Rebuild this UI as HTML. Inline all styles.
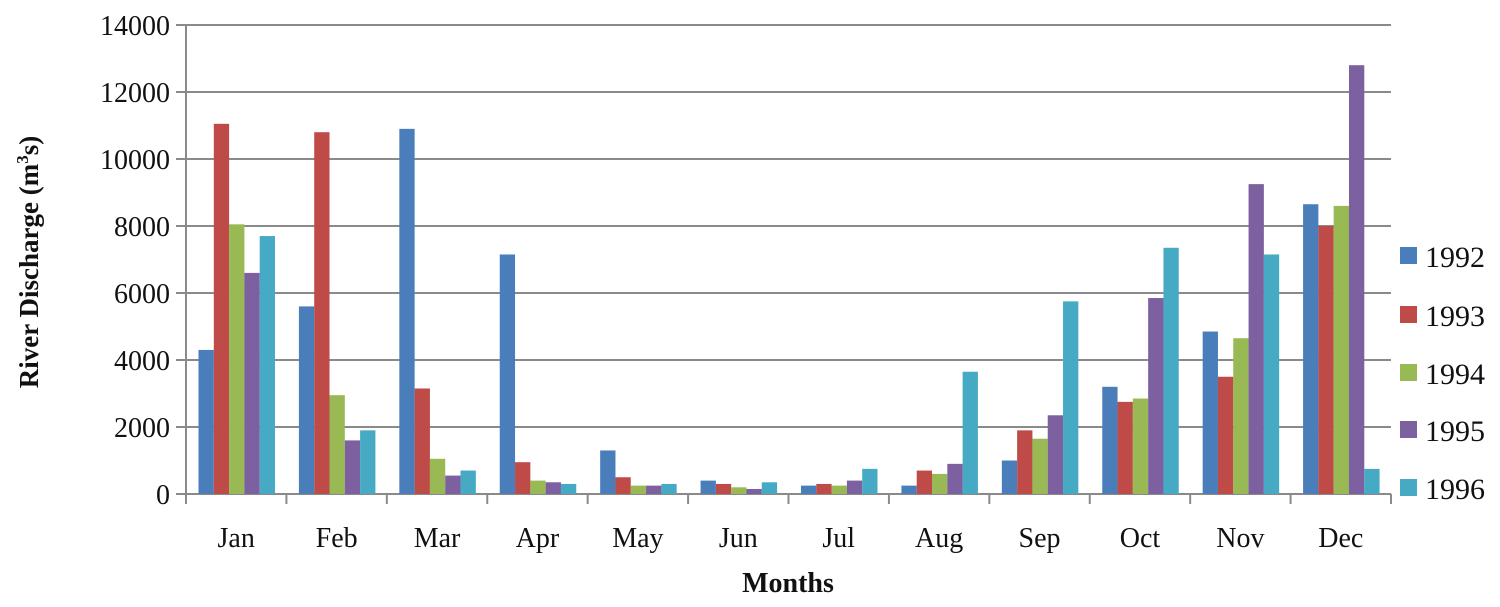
<!DOCTYPE html>
<html><head><meta charset="utf-8"><style>
body{margin:0;background:#fff}
svg{display:block;font-family:"Liberation Serif",serif}
</style></head><body>
<svg id="chart" width="1500" height="607"></svg>
<script>
const months=["Jan","Feb","Mar","Apr","May","Jun","Jul","Aug","Sep","Oct","Nov","Dec"];
const seriesNames=["1992","1993","1994","1995","1996"];
const s1992=[4300,5600,10900,7150,1300,400,250,250,1000,3200,4850,8650];
const s1993=[11050,10800,3150,950,500,300,300,700,1900,2750,3500,8000];
const s1994=[8050,2950,1050,400,250,200,250,600,1650,2850,4650,8600];
const s1995=[6600,1600,550,350,250,150,400,900,2350,5850,9250,12800];
const s1996=[7700,1900,700,300,300,350,750,3650,5750,7350,7150,750];
const yTicks=[0,2000,4000,6000,8000,10000,12000,14000];
const series=[s1992,s1993,s1994,s1995,s1996];
const colors=["#4a7ebb","#be4b48","#98b954","#7d60a0","#46aac5"];
const NS="http://www.w3.org/2000/svg";
const svg=document.getElementById("chart");
const X0=186,X1=1391,Y0=494,Y1=25,YMAX=14000;
const catW=(X1-X0)/months.length;
const y=v=>Y0-(v/YMAX)*(Y0-Y1);
function mk(tag,attrs,parent){const e=document.createElementNS(NS,tag);for(const k in attrs)e.setAttribute(k,attrs[k]);(parent||svg).appendChild(e);return e;}
yTicks.forEach(t=>{
  const g=mk("line",{x1:X0-10,x2:X1,y1:y(t),y2:y(t),stroke:"#8a8a8a","stroke-width":2});
  
  
  const l=mk("text",{x:170,y:y(t)+10,"text-anchor":"end","font-size":28,fill:"#111"});
  l.textContent=t;
  
  
});
const ax=mk("line",{x1:X0,x2:X0,y1:Y1,y2:Y0+10,stroke:"#8a8a8a","stroke-width":2});


for(let i=0;i<=months.length;i++){
  const t=mk("line",{x1:X0+i*catW,x2:X0+i*catW,y1:Y0,y2:Y0+10,stroke:"#8a8a8a","stroke-width":2});
  
  
}
const bw=15.3,off=12.5;
months.forEach((m,i)=>{
  series.forEach((s,j)=>{
    const r=mk("rect",{x:X0+i*catW+off+j*bw,y:y(s[i]),width:bw,height:Y0-y(s[i]),fill:colors[j]});
    
    
  });
  const l=mk("text",{x:X0+(i+0.5)*catW,y:547,"text-anchor":"middle","font-size":28,fill:"#111"});
  l.textContent=m;
  
  
});
const xt=mk("text",{x:788,y:592,"text-anchor":"middle","font-size":28,"font-weight":"bold",fill:"#111"});
xt.textContent="Months";


const yt=mk("text",{x:0,y:0,"text-anchor":"middle","font-size":27,"font-weight":"bold",fill:"#111",transform:"translate(38,262) rotate(-90)"});
yt.innerHTML='River Discharge (m<tspan font-size="17" dy="-10">3</tspan><tspan dy="10">s)</tspan>';


const ly=[256,315,373,430,488];
seriesNames.forEach((n,j)=>{
  const sq=mk("rect",{x:1400,y:ly[j]-9,width:17,height:17,fill:colors[j]});
  
  
  const t=mk("text",{x:1425,y:ly[j]+11,"font-size":30,fill:"#111"});
  t.textContent=n;
  
  
});
</script>
</body></html>
